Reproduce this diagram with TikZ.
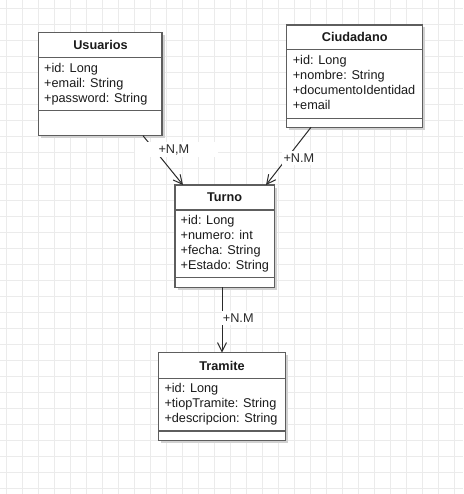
\documentclass[tikz,border=0pt]{standalone}
\usepackage{fontspec}
\setmainfont{Liberation Sans}
\usetikzlibrary{arrows.meta,calc,shadows}
\definecolor{gridc}{HTML}{EBEBEB}
\definecolor{boxc}{HTML}{5E5E5E}
\definecolor{edgec}{HTML}{2A2A2A}
\definecolor{txtc}{HTML}{1A1A1A}
\tikzset{
  gridline/.style={gridc,line width=1.2pt},
  classbox/.style={draw=boxc,line width=1.5pt,fill=white,inner sep=0pt,outer sep=0pt,anchor=north west,
    drop shadow={shadow xshift=2.5pt,shadow yshift=-2.5pt,fill=black!18,opacity=1}},
  sepline/.style={draw=boxc,line width=1.5pt},
  ttl/.style={font=\fontsize{12.7}{15}\selectfont\bfseries,text=txtc,inner sep=0pt,anchor=base},
  attr/.style={font=\fontsize{12.7}{15}\selectfont,text=txtc,inner sep=0pt,anchor=base west},
  conn/.style={edgec,line width=1pt,-{Straight Barb[length=9pt,width=9pt]}},
  lbl/.style={font=\fontsize{12.7}{15}\selectfont,text=edgec,inner sep=0pt,anchor=base west}
}
\begin{document}
\begin{tikzpicture}[x=1pt,y=-1pt]
\useasboundingbox[fill=white] (0,0) rectangle (463,494);
% grid
\foreach \x in {6.7,22.7,...,462.7} \draw[gridline] (\x,0) -- (\x,494);
\foreach \y in {8.7,24.7,...,493.7} \draw[gridline] (0,\y) -- (463,\y);

% Usuarios
\node[classbox,minimum width=123.7pt,minimum height=103pt] (usu) at (38.3,32.7) {};
\draw[sepline] ($(usu.north west)+(0,25)$) -- ($(usu.north east)+(0,25)$);
\draw[sepline] ($(usu.north west)+(0,78)$) -- ($(usu.north east)+(0,78)$);
\node[ttl] (usut) at (100.5,50) {Usuarios};
\node[attr] (usu1) at (44,72.7) {+id: Long};
\node[attr] (usu2) at (44,87.7) {+email: String};
\node[attr] (usu3) at (44,102.7) {+password: String};

% Ciudadano
\node[classbox,minimum width=136pt,minimum height=102.3pt] (ciu) at (286.7,25) {};
\draw[sepline] ($(ciu.north west)+(0,24.3)$) -- ($(ciu.north east)+(0,24.3)$);
\draw[sepline] ($(ciu.north west)+(0,93.3)$) -- ($(ciu.north east)+(0,93.3)$);
\node[ttl] (ciut) at (354.7,41.7) {Ciudadano};
\node[attr] (ciu1) at (292.6,64.3) {+id: Long};
\node[attr] (ciu2) at (292.6,79.3) {+nombre: String};
\node[attr] (ciu3) at (292.6,94.3) {+documentoIdentidad};
\node[attr] (ciu4) at (292.6,109.3) {+email};

% Turno
\node[classbox,minimum width=99.3pt,minimum height=102.3pt] (tur) at (175,185) {};
\draw[sepline] ($(tur.north west)+(0,25)$) -- ($(tur.north east)+(0,25)$);
\draw[sepline] ($(tur.north west)+(0,92.7)$) -- ($(tur.north east)+(0,92.7)$);
\node[ttl] (turt) at (224.6,201.7) {Turno};
\node[attr] (tur1) at (180.5,224.3) {+id: Long};
\node[attr] (tur2) at (180.5,239.3) {+numero: int};
\node[attr] (tur3) at (180.5,254.3) {+fecha: String};
\node[attr] (tur4) at (180.5,269.3) {+Estado: String};

% Tramite
\node[classbox,minimum width=127.4pt,minimum height=88pt] (tra) at (158.3,352.7) {};
\draw[sepline] ($(tra.north west)+(0,25.6)$) -- ($(tra.north east)+(0,25.6)$);
\draw[sepline] ($(tra.north west)+(0,78.3)$) -- ($(tra.north east)+(0,78.3)$);
\node[ttl] (trat) at (222,370) {Tramite};
\node[attr] (tra1) at (164.3,392.3) {+id: Long};
\node[attr] (tra2) at (164.3,407.3) {+tiopTramite: String};
\node[attr] (tra3) at (164.3,422.3) {+descripcion: String};

% connectors
\draw[conn] ($(usu.south west)+(104.7,0)$) -- ($(tur.north west)+(8,0)$);
\draw[conn] ($(ciu.south west)+(24.3,0)$) -- ($(tur.north west)+(91,0)$);
\draw[conn] (tra.north |- tur.south) -- (tra.north);

% label backgrounds
\fill[white] (135,142) rectangle (218,157.5);
\fill[white] (282,151.5) rectangle (314,165);
\fill[white] (221.5,311) rectangle (253.5,325);

% labels
\node[lbl] (l1) at (158.3,153.5) {+N,M};
\node[lbl] (l2) at (283.3,162.7) {+N.M};
\node[lbl] (l3) at (222.7,322.7) {+N.M};
\end{tikzpicture}
\end{document}
